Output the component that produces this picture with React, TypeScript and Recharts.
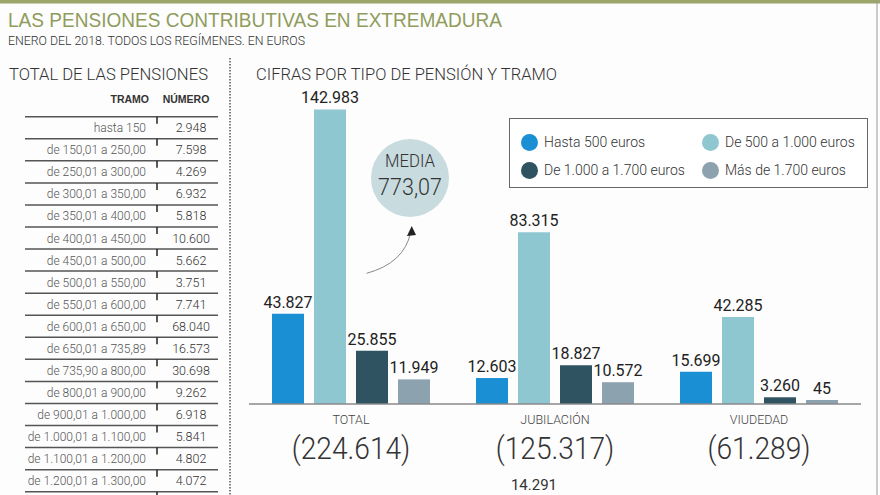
import React from "react";
import { BarChart, Bar, XAxis, YAxis, LabelList } from "recharts";

// ── Data ──────────────────────────────────────────────────────────────────────

const GROUPS = ["TOTAL", "JUBILACIÓN", "VIUDEDAD"];
const GROUP_TOTALS = [224614, 125317, 61289];

const HASTA_500 = [43827, 12603, 15699];
const DE_500_A_1000 = [142983, 83315, 42285];
const DE_1000_A_1700 = [25855, 18827, 3260];
const MAS_1700 = [11949, 10572, 45];

const TRAMOS = [
  "hasta 150",
  "de 150,01 a 250,00",
  "de 250,01 a 300,00",
  "de 300,01 a 350,00",
  "de 350,01 a 400,00",
  "de 400,01 a 450,00",
  "de 450,01 a 500,00",
  "de 500,01 a 550,00",
  "de 550,01 a 600,00",
  "de 600,01 a 650,00",
  "de 650,01 a 735,89",
  "de 735,90 a 800,00",
  "de 800,01 a 900,00",
  "de 900,01 a 1.000,00",
  "de 1.000,01 a 1.100,00",
  "de 1.100,01 a 1.200,00",
  "de 1.200,01 a 1.300,00",
];
const NUMEROS = [
  2948, 7598, 4269, 6932, 5818, 10600, 5662, 3751, 7741, 68040, 16573, 30698,
  9262, 6918, 5841, 4802, 4072,
];

const MEDIA = "773,07";
const NEXT_CHART_LABEL = 14291; // top of the next chart, cut off by the frame

const SERIES = [
  { key: "hasta500", name: "Hasta 500 euros", color: "#1b8fd4", values: HASTA_500 },
  { key: "de500", name: "De 500 a 1.000 euros", color: "#8fc7d1", values: DE_500_A_1000 },
  { key: "de1000", name: "De 1.000 a 1.700 euros", color: "#2f5361", values: DE_1000_A_1700 },
  { key: "mas1700", name: "Más de 1.700 euros", color: "#8ca2ae", values: MAS_1700 },
];

const data = GROUPS.map((group, i) => {
  const row: Record<string, string | number> = { group, total: GROUP_TOTALS[i] };
  SERIES.forEach((s) => (row[s.key] = s.values[i]));
  return row;
});

const fmt = (n: number) => String(n).replace(/\B(?=(\d{3})+(?!\d))/g, ".");

const SANS = "'Liberation Sans', Arial, sans-serif";
const LIGHT = "Roboto, 'Liberation Sans', sans-serif";
const OLIVE = "#8f9c5c";

// ── Category tick: name + total in brackets ──────────────────────────────────

function GroupTick({ x, y, payload, index }: any) {
  return (
    <g>
      <text x={x} y={y + 20} textAnchor="middle" fontFamily={LIGHT} fontWeight={300} fontSize={12.5} fill="#444">
        {payload.value}
      </text>
      <g transform={`translate(${x},${y + 55}) scale(0.88,1)`}>
        <text x={0} y={0} textAnchor="middle" fontFamily={LIGHT} fontWeight={300} fontSize={32} fill="#333">
          ({fmt(GROUP_TOTALS[index])})
        </text>
      </g>
    </g>
  );
}

// ── Main ─────────────────────────────────────────────────────────────────────

export default function App() {
  return (
    <div
      style={{
        position: "absolute",
        left: 0,
        top: 0,
        width: 880,
        height: 495,
        overflow: "hidden",
        background: "#fdfdfd",
      }}
    >
      {/* static frame: titles, table, divider */}
      <svg width={880} height={495} style={{ position: "absolute", left: 0, top: 0 }}>
        <rect x={0} y={0} width={880} height={3.5} fill="#9ba66a" />
        <line x1={877} x2={877} y1={0} y2={495} stroke="#999" strokeWidth={1} />
        <text x={8} y={27} fontFamily={SANS} fontSize={20} fill={OLIVE} textLength={494} lengthAdjust="spacingAndGlyphs">
          LAS PENSIONES CONTRIBUTIVAS EN EXTREMADURA
        </text>
        <text x={8} y={45} fontFamily={LIGHT} fontWeight={300} fontSize={12} fill="#333" textLength={297} lengthAdjust="spacingAndGlyphs">
          ENERO DEL 2018. TODOS LOS REGÍMENES. EN EUROS
        </text>

        <text x={9} y={80} fontFamily={LIGHT} fontWeight={300} fontSize={17} fill="#333" textLength={199} lengthAdjust="spacingAndGlyphs">
          TOTAL DE LAS PENSIONES
        </text>
        <text x={256} y={80} fontFamily={LIGHT} fontWeight={300} fontSize={17} fill="#333" textLength={301} lengthAdjust="spacingAndGlyphs">
          CIFRAS POR TIPO DE PENSIÓN Y TRAMO
        </text>

        <text x={149} y={103} textAnchor="end" fontFamily={SANS} fontWeight={700} fontSize={10.5} fill="#333">
          TRAMO
        </text>
        <text x={186} y={103} textAnchor="middle" fontFamily={SANS} fontWeight={700} fontSize={10.5} fill="#333">
          NÚMERO
        </text>

        {TRAMOS.map((t, i) => {
          const top = 116.7 + i * 22.06;
          return (
            <g key={t}>
              <line x1={25} x2={218} y1={top} y2={top} stroke="#555" strokeWidth={1.5} />
              <line x1={157} x2={157} y1={top} y2={top + 7} stroke="#222" strokeWidth={1.5} />
              <text x={146} y={top + 15.5} textAnchor="end" fontFamily={LIGHT} fontWeight={300} fontSize={12} fill="#555">
                {t}
              </text>
              <text x={191} y={top + 15.5} textAnchor="middle" fontFamily={LIGHT} fontWeight={300} fontSize={12.5} fill="#333">
                {fmt(NUMEROS[i])}
              </text>
            </g>
          );
        })}
        <line x1={25} x2={218} y1={116.7 + TRAMOS.length * 22.06} y2={116.7 + TRAMOS.length * 22.06} stroke="#555" strokeWidth={1.5} />
        <line x1={157} x2={157} y1={116.7 + TRAMOS.length * 22.06} y2={495} stroke="#222" strokeWidth={1.5} />

        <line x1={230} x2={230} y1={58} y2={495} stroke="#555" strokeWidth={1.5} strokeDasharray="1.5 1.5" />

        <text x={534} y={490} textAnchor="middle" fontFamily={LIGHT} fontSize={15} fill="#333">
          {fmt(NEXT_CHART_LABEL)}
        </text>
      </svg>

      <div style={{ position: "absolute", left: 0, top: 0 }}>
        <BarChart
          width={880}
          height={495}
          data={data}
          margin={{ top: 95, right: 19, bottom: 0, left: 249 }}
          barSize={32}
          barGap={10}
        >
          <XAxis
            dataKey="group"
            height={91}
            axisLine={{ stroke: "#888", strokeWidth: 1.5 }}
            tickLine={false}
            tickSize={0}
            tickMargin={0}
            interval={0}
            tick={<GroupTick />}
          />
          <YAxis hide domain={[0, 150000]} />
          {SERIES.map((s) => (
            <Bar key={s.key} dataKey={s.key} name={s.name} fill={s.color} minPointSize={4} isAnimationActive={false}>
              <LabelList
                dataKey={s.key}
                position="top"
                offset={6}
                formatter={(v: any) => fmt(Number(v))}
                style={{ fontFamily: LIGHT, fontSize: 16, fill: "#222" }}
              />
            </Bar>
          ))}
        </BarChart>
      </div>

      {/* legend */}
      <div
        style={{
          position: "absolute",
          left: 509,
          top: 118,
          width: 359,
          height: 70,
          border: "1px solid #666",
          background: "#fff",
          display: "grid",
          gridTemplateColumns: "181px 176px",
          gridAutoRows: "28px",
          paddingTop: 9,
          boxSizing: "border-box",
          fontFamily: LIGHT,
          fontWeight: 300,
          fontSize: 14,
          color: "#333",
        }}
      >
        {SERIES.map((s) => (
          <div key={s.key} style={{ display: "flex", alignItems: "center", paddingLeft: 11 }}>
            <span
              style={{
                display: "inline-block",
                width: 17,
                height: 17,
                borderRadius: "50%",
                background: s.color,
                marginRight: 6,
                flex: "none",
              }}
            />
            <span style={{ whiteSpace: "nowrap" }}>{s.name}</span>
          </div>
        ))}
      </div>

      {/* MEDIA bubble and arrow */}
      <svg width={880} height={495} style={{ position: "absolute", left: 0, top: 0, pointerEvents: "none" }}>
        <circle cx={410} cy={178} r={39} fill="#c8dbde" />
        <g transform="translate(410,167) scale(0.93,1)">
          <text x={0} y={0} textAnchor="middle" fontFamily={LIGHT} fontWeight={300} fontSize={18} fill="#333">
            MEDIA
          </text>
        </g>
        <g transform="translate(410,195) scale(0.88,1)">
          <text x={0} y={0} textAnchor="middle" fontFamily={LIGHT} fontWeight={300} fontSize={24.5} fill="#333">
            {MEDIA}
          </text>
        </g>
        <path d="M366.7,273.3 Q404,263 410.5,233" fill="none" stroke="#888" strokeWidth={1} />
        <path d="M411.7,226 L407,236 L416,235 Z" fill="#222" />
      </svg>
    </div>
  );
}
